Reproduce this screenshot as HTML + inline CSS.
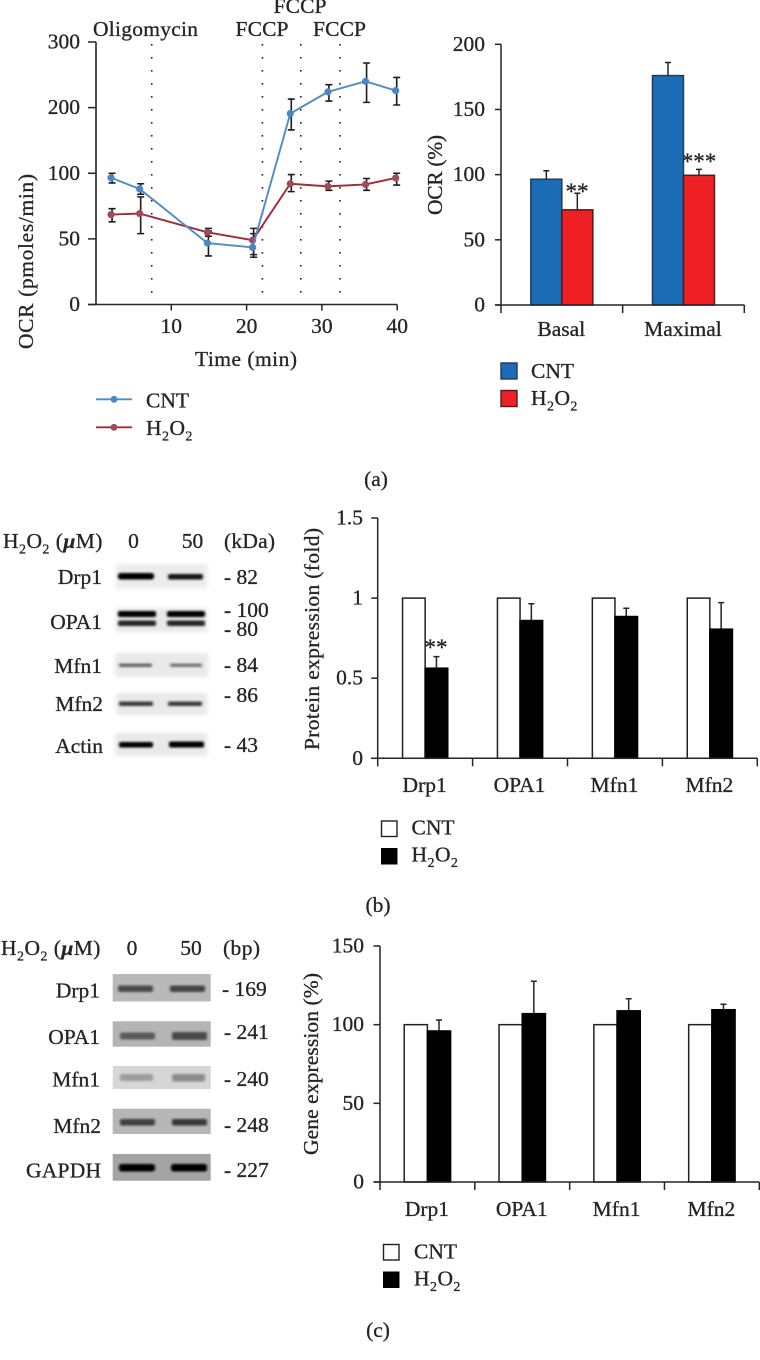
<!DOCTYPE html>
<html lang="en">
<head>
<meta charset="utf-8">
<title>OCR, protein and gene expression figure</title>
<style>
html,body{margin:0;padding:0;background:#fff;}
svg{display:block;}
text{font-family:"Liberation Serif",serif;fill:#262425;stroke:#262425;stroke-width:.3px;font-size:21.5px;}
.sm{font-size:14px;}
.wide{letter-spacing:.45px;}
</style>
</head>
<body>
<svg id="fig" xmlns="http://www.w3.org/2000/svg" width="760" height="1360" viewBox="0 0 760 1360">
<defs>
<filter id="b1" x="-20%" y="-200%" width="140%" height="500%"><feGaussianBlur stdDeviation="1.4 1.05"/></filter>
<filter id="b2" x="-10%" y="-10%" width="120%" height="120%"><feGaussianBlur stdDeviation="2"/></filter>
</defs>

<!-- Panel a labels -->
<g>
<text x="93" y="36" textLength="105">Oligomycin</text>
<text x="235.5" y="36" textLength="53">FCCP</text>
<text x="273.5" y="13" textLength="53">FCCP</text>
<text x="313" y="36" textLength="53">FCCP</text>
<text transform="translate(33,349) rotate(-90)" textLength="175">OCR (pmoles/min)</text>
<text x="195" y="366" textLength="102">Time (min)</text>
<line x1="96" x2="132" y1="399.3" y2="399.3" stroke="#4f8bc4" stroke-width="1.8"/>
<circle cx="114" cy="399.3" r="3.4" fill="#4a86c0"/>
<text x="146" y="407.5">CNT</text>
<line x1="96" x2="132" y1="427.3" y2="427.3" stroke="#a32a38" stroke-width="1.8"/>
<circle cx="114" cy="427.3" r="3.4" fill="#a04a5c"/>
<text class="wide" x="146" y="435">H<tspan class="sm" dy="5.5">2</tspan><tspan dy="-5.5">O</tspan><tspan class="sm" dy="5.5">2</tspan></text>
<text x="376" y="486" text-anchor="middle">(a)</text>
</g>

<!-- OCR bar labels -->
<g>
<text transform="translate(442,215) rotate(-90)" textLength="80">OCR (%)</text>
<text x="577" y="199" text-anchor="middle" style="font-size:23px">**</text>
<text x="699" y="169" text-anchor="middle" style="font-size:23px">***</text>
<rect x="501" y="363" width="16" height="16" fill="#1b6bb5" stroke="#1e3c5c" stroke-width="1.4"/>
<text x="531" y="378">CNT</text>
<rect x="501" y="390.5" width="16" height="16" fill="#ee2024" stroke="#4a1c20" stroke-width="1.4"/>
<text class="wide" x="531" y="405">H<tspan class="sm" dy="5.5">2</tspan><tspan dy="-5.5">O</tspan><tspan class="sm" dy="5.5">2</tspan></text>
</g>

<!-- Western blot -->
<g>
<text class="wide" x="3" y="548">H<tspan class="sm" dy="5.5">2</tspan><tspan dy="-5.5">O</tspan><tspan class="sm" dy="5.5">2</tspan><tspan dy="-5.5"> (</tspan><tspan font-style="italic" font-weight="bold">μ</tspan>M)</text>
<text x="133.5" y="548" text-anchor="middle">0</text>
<text x="192.5" y="548" text-anchor="middle">50</text>
<text x="224" y="548" textLength="51">(kDa)</text>

<rect x="116" y="564" width="91" height="25" fill="#ececec" filter="url(#b2)"/>
<rect x="116" y="608" width="91" height="24" fill="#e8e8e8" filter="url(#b2)"/>
<rect x="115" y="653" width="93" height="24" fill="#e9e9e9" filter="url(#b2)"/>
<rect x="116" y="693" width="91" height="22" fill="#e9e9e9" filter="url(#b2)"/>
<rect x="115" y="733" width="92" height="23" fill="#e9e9e9" filter="url(#b2)"/>

<g filter="url(#b1)">
<rect x="118" y="573" width="36" height="6.5" rx="2.5" fill="#000"/>
<rect x="168" y="574" width="35" height="5.5" rx="2" fill="#141414"/>
<rect x="118" y="611" width="38" height="6" rx="2" fill="#000"/>
<rect x="167" y="611" width="38" height="6" rx="2" fill="#000"/>
<rect x="118" y="620.5" width="38" height="5.5" rx="2" fill="#282828"/>
<rect x="167" y="620.5" width="38" height="5.5" rx="2" fill="#282828"/>
<rect x="119" y="663.5" width="33" height="3.5" rx="1" fill="#666"/>
<rect x="170" y="663.5" width="32" height="3.5" rx="1" fill="#777"/>
<rect x="119" y="701.5" width="34" height="4.5" rx="1.5" fill="#3c3c3c"/>
<rect x="168" y="701.5" width="34" height="4.5" rx="1.5" fill="#3c3c3c"/>
<rect x="119" y="742" width="34" height="5.5" rx="2" fill="#000"/>
<rect x="169" y="741.5" width="35" height="6" rx="2" fill="#000"/>
</g>

<text x="102" y="584" text-anchor="end">Drp1</text>
<text x="102" y="629" text-anchor="end">OPA1</text>
<text x="102" y="673" text-anchor="end">Mfn1</text>
<text x="103" y="711" text-anchor="end">Mfn2</text>
<text x="103" y="753" text-anchor="end">Actin</text>
<text x="224" y="584">- 82</text>
<text x="224" y="617">- 100</text>
<text x="224" y="636">- 80</text>
<text x="224" y="672">- 84</text>
<text x="224" y="702">- 86</text>
<text x="224" y="752">- 43</text>
</g>

<!-- Protein chart annotations -->
<g>
<text transform="translate(319,750) rotate(-90)" textLength="222">Protein expression (fold)</text>
<text x="436" y="655" text-anchor="middle" style="font-size:23px">**</text>
<rect x="381.5" y="821" width="15.5" height="15.5" fill="#fff" stroke="#222" stroke-width="1.4"/>
<text x="411.5" y="834.5">CNT</text>
<rect x="381" y="848" width="16.5" height="16.5" fill="#000"/>
<text class="wide" x="411.5" y="861.5">H<tspan class="sm" dy="5.5">2</tspan><tspan dy="-5.5">O</tspan><tspan class="sm" dy="5.5">2</tspan></text>
<text x="378" y="912" text-anchor="middle">(b)</text>
</g>

<!-- RT-PCR gel -->
<g>
<text class="wide" x="1" y="955">H<tspan class="sm" dy="5.5">2</tspan><tspan dy="-5.5">O</tspan><tspan class="sm" dy="5.5">2</tspan><tspan dy="-5.5"> (</tspan><tspan font-style="italic" font-weight="bold">μ</tspan>M)</text>
<text x="132" y="955" text-anchor="middle">0</text>
<text x="191" y="955" text-anchor="middle">50</text>
<text x="223" y="955" textLength="37">(bp)</text>

<rect x="112.7" y="974" width="98" height="27.5" fill="#b9b9b9"/>
<rect x="112.7" y="1021.3" width="98" height="25.4" fill="#b4b4b4"/>
<rect x="112.7" y="1066" width="98" height="23" fill="#d6d6d6"/>
<rect x="112.7" y="1108.7" width="98" height="25.3" fill="#b6b6b6"/>
<rect x="112.7" y="1154" width="98" height="26.7" fill="#a4a4a4"/>

<g filter="url(#b1)">
<rect x="118" y="985.5" width="35" height="6.5" rx="2" fill="#4c4c4c"/>
<rect x="170" y="985.5" width="35" height="6.5" rx="2" fill="#444"/>
<rect x="120" y="1032.5" width="35" height="7" rx="2" fill="#5a5a5a"/>
<rect x="172" y="1032" width="35" height="8" rx="2" fill="#484848"/>
<rect x="120" y="1074" width="33" height="7" rx="2" fill="#9c9c9c"/>
<rect x="172" y="1074" width="33" height="7.5" rx="2" fill="#8c8c8c"/>
<rect x="120" y="1119" width="35" height="6.5" rx="2" fill="#404040"/>
<rect x="172" y="1119" width="35" height="6.5" rx="2" fill="#383838"/>
<rect x="119" y="1164" width="36" height="7.5" rx="2.5" fill="#000"/>
<rect x="171" y="1164" width="36" height="7.5" rx="2.5" fill="#000"/>
</g>

<text x="100" y="997.5" text-anchor="end">Drp1</text>
<text x="100" y="1044" text-anchor="end">OPA1</text>
<text x="100" y="1086.5" text-anchor="end">Mfn1</text>
<text x="101" y="1133" text-anchor="end">Mfn2</text>
<text x="101" y="1177.5" text-anchor="end" textLength="75">GAPDH</text>
<text x="222" y="996">- 169</text>
<text x="224" y="1039">- 241</text>
<text x="224" y="1086">- 240</text>
<text x="224" y="1132">- 248</text>
<text x="224" y="1177">- 227</text>
</g>

<!-- Gene chart annotations -->
<g>
<text transform="translate(318,1155) rotate(-90)" textLength="182">Gene expression (%)</text>
<rect x="383.5" y="1244.5" width="15.5" height="15.5" fill="#fff" stroke="#222" stroke-width="1.4"/>
<text x="414" y="1258.5">CNT</text>
<rect x="383" y="1271.5" width="16.5" height="16.5" fill="#000"/>
<text class="wide" x="414" y="1285.5">H<tspan class="sm" dy="5.5">2</tspan><tspan dy="-5.5">O</tspan><tspan class="sm" dy="5.5">2</tspan></text>
<text x="378" y="1337" text-anchor="middle">(c)</text>
</g>
</svg>

<script>
// ---- OCR time course ----
const timeTicks = [10, 20, 30, 40];
const ocrTicks = [0, 50, 100, 200, 300];
const injectionTimes = [7.4, 22.1, 27.2, 32.4];
const sampleTimes = [2, 5.8, 14.8, 20.8, 25.8, 30.8, 35.8, 39.8];
const cntOcr = [96.6, 88, 46.8, 43.5, 191, 224, 240, 226];
const cntOcrUpper = [100, 92, 56, 58, 213, 235, 268, 246];
const cntOcrLower = [92.6, 84, 37, 36, 166, 210, 208, 204];
const h2o2Ocr = [68.5, 69.3, 55, 49, 92, 90, 91.5, 96.4];
const h2o2OcrUpper = [73, 82, 58, 54, 99, 94, 96, 100];
const h2o2OcrLower = [63, 54, 52, 38, 86, 87, 87, 91];

// ---- OCR bars ----
const ocrBarCategories = ['Basal', 'Maximal'];
const ocrBarTicks = [0, 50, 100, 150, 200];
const ocrBarCnt = [96.5, 176];
const ocrBarCntErr = [6.5, 10];
const ocrBarH2o2 = [73, 99.5];
const ocrBarH2o2Err = [12.7, 4.5];

// ---- Protein expression ----
const proteinCategories = ['Drp1', 'OPA1', 'Mfn1', 'Mfn2'];
const proteinTicks = [0, 0.5, 1, 1.5];
const proteinCnt = [1, 1, 1, 1];
const proteinH2o2 = [0.5625, 0.86, 0.885, 0.806];
const proteinH2o2Err = [0.0725, 0.105, 0.052, 0.166];

// ---- Gene expression ----
const geneCategories = ['Drp1', 'OPA1', 'Mfn1', 'Mfn2'];
const geneTicks = [0, 50, 100, 150];
const geneCnt = [100, 100, 100, 100];
const geneH2o2 = [96, 107, 108.8, 109.5];
const geneH2o2Err = [7, 20.6, 7.7, 3.5];

const NS = 'http://www.w3.org/2000/svg';
const fig = document.getElementById('fig');
function mk(tag, attrs, parent) {
  const node = document.createElementNS(NS, tag);
  for (const k in attrs) node.setAttribute(k, attrs[k]);
  (parent || fig).appendChild(node);
  return node;
}
const INK = '#262425';

// ---------- Panel a, left: line chart ----------
const axX = t => 96 + t * 7.53;
function axY(v) {
  let i = 0;
  while (i < ocrTicks.length - 2 && v > ocrTicks[i + 1]) i++;
  const frac = (v - ocrTicks[i]) / (ocrTicks[i + 1] - ocrTicks[i]);
  return 304.5 - (i + frac) * (262.5 / (ocrTicks.length - 1));
}
const lineGroup = mk('g', {});



injectionTimes.forEach(t => {
  const l = mk('line', {x1: axX(t), x2: axX(t), y1: 44, y2: 296, stroke: '#222', 'stroke-width': 1.6, 'stroke-dasharray': '1.6 11.4'}, lineGroup);
  
  
});

const yAxisA = mk('line', {x1: axX(0), x2: axX(0), y1: axY(300), y2: axY(0), stroke: INK, 'stroke-width': 1.6}, lineGroup);


const xAxisA = mk('line', {x1: 88, x2: axX(40), y1: axY(0), y2: axY(0), stroke: INK, 'stroke-width': 1.6}, lineGroup);



ocrTicks.forEach(v => {
  const t = mk('line', {x1: 88, x2: axX(0), y1: axY(v), y2: axY(v), stroke: INK, 'stroke-width': 1.5}, lineGroup);
  
  
  const lb = mk('text', {x: 80, y: axY(v) + 6.5, 'text-anchor': 'end'}, lineGroup);
  lb.textContent = v;
  
  
});
timeTicks.forEach(v => {
  const t = mk('line', {x1: axX(v), x2: axX(v), y1: axY(0), y2: axY(0) + 6, stroke: INK, 'stroke-width': 1.5}, lineGroup);
  
  
  const lb = mk('text', {x: axX(v), y: 333, 'text-anchor': 'middle'}, lineGroup);
  lb.textContent = v;
  
  
});

function drawErrors(upper, lower, name) {
  sampleTimes.forEach((t, i) => {
    const x = axX(t) + 1;
    const e = mk('path', {
      d: 'M' + x + ' ' + axY(upper[i]) + 'V' + axY(lower[i]) +
         'M' + (x - 3.5) + ' ' + axY(upper[i]) + 'h7' +
         'M' + (x - 3.5) + ' ' + axY(lower[i]) + 'h7',
      stroke: '#1c1c1c', 'stroke-width': 1.6, fill: 'none'}, lineGroup);
    
    
  });
}
function drawSeries(values, lineColor, dotColor, lineName, dotName) {
  const p = mk('polyline', {
    points: values.map((v, i) => axX(sampleTimes[i]) + ',' + axY(v)).join(' '),
    fill: 'none', stroke: lineColor, 'stroke-width': 1.9}, lineGroup);
  
  
  values.forEach((v, i) => {
    const c = mk('circle', {cx: axX(sampleTimes[i]), cy: axY(v), r: 3.6, fill: dotColor}, lineGroup);
    
    
  });
}
drawErrors(h2o2OcrUpper, h2o2OcrLower, 'h2o2-error-bar');
drawErrors(cntOcrUpper, cntOcrLower, 'cnt-error-bar');
drawSeries(h2o2Ocr, '#a32a38', '#a04a5c', 'h2o2-line', 'h2o2-point');
drawSeries(cntOcr, '#4f8bc4', '#4a86c0', 'cnt-line', 'cnt-point');

// ---------- Shared grouped bar chart ----------
function barChart(cfg) {
  const g = mk('g', {});
  
  
  const maxTick = cfg.ticks[cfg.ticks.length - 1];
  const y = v => cfg.y0 - (v / maxTick) * (cfg.y0 - cfg.yTop);
  const n = cfg.categories.length;
  const band = (cfg.xEnd - cfg.x0) / n;
  const center = i => cfg.x0 + band * (i + 0.5);

  cfg.categories.forEach((cat, i) => {
    const c = center(i) + cfg.shift;
    const a = mk('rect', {x: c - cfg.bw, y: y(cfg.a[i]), width: cfg.bw, height: cfg.y0 - y(cfg.a[i]), fill: cfg.aFill, stroke: cfg.aStroke, 'stroke-width': 1.5}, g);
    
    
    if (cfg.aErr) {
      const top = cfg.a[i] + cfg.aErr[i];
      const ea = mk('path', {d: 'M' + (c - cfg.bw / 2) + ' ' + y(cfg.a[i]) + 'V' + y(top) + 'M' + (c - cfg.bw / 2 - 3) + ' ' + y(top) + 'h6', stroke: INK, 'stroke-width': 1.5, fill: 'none'}, g);
      
      
    }
    const top = cfg.b[i] + cfg.bErr[i];
    const eb = mk('path', {d: 'M' + (c + cfg.bw / 2) + ' ' + y(cfg.b[i]) + 'V' + y(top) + 'M' + (c + cfg.bw / 2 - 3) + ' ' + y(top) + 'h6', stroke: INK, 'stroke-width': 1.5, fill: 'none'}, g);
    
    
    const b = mk('rect', {x: c, y: y(cfg.b[i]), width: cfg.bw, height: cfg.y0 - y(cfg.b[i]), fill: cfg.bFill, stroke: cfg.bStroke, 'stroke-width': 1.5}, g);
    
    
    const lb = mk('text', {x: center(i) - 0.5, y: cfg.labelY, 'text-anchor': 'middle'}, g);
    lb.textContent = cat;
    
    
  });

  const ya = mk('line', {x1: cfg.x0, x2: cfg.x0, y1: cfg.yTop, y2: cfg.y0, stroke: INK, 'stroke-width': 1.5}, g);
  
  
  const xa = mk('line', {x1: cfg.x0 - cfg.tickLen, x2: cfg.xEnd, y1: cfg.y0, y2: cfg.y0, stroke: INK, 'stroke-width': 1.5}, g);
  
  

  cfg.ticks.forEach(v => {
    const t = mk('line', {x1: cfg.x0 - cfg.tickLen, x2: cfg.x0, y1: y(v), y2: y(v), stroke: INK, 'stroke-width': 1.5}, g);
    
    
    const lb = mk('text', {x: cfg.labelX, y: y(v) + 6.5, 'text-anchor': 'end'}, g);
    lb.textContent = v;
    
    
  });
  for (let i = 0; i <= n; i++) {
    const x = cfg.x0 + band * i;
    const t = mk('line', {x1: x, x2: x, y1: cfg.y0, y2: cfg.y0 + 8, stroke: INK, 'stroke-width': 1.5}, g);
    
    
  }
}

barChart({
  name: 'ocr-percent-bar-chart', categories: ocrBarCategories, ticks: ocrBarTicks,
  a: ocrBarCnt, aErr: ocrBarCntErr, b: ocrBarH2o2, bErr: ocrBarH2o2Err,
  x0: 501, xEnd: 744.3, y0: 305, yTop: 44.3, bw: 31, shift: 0,
  aFill: '#1b6bb5', aStroke: '#1e3c5c', bFill: '#ee2024', bStroke: '#4a1c20',
  labelX: 485, labelY: 336, tickLen: 6
});
barChart({
  name: 'protein-expression-bar-chart', categories: proteinCategories, ticks: proteinTicks,
  a: proteinCnt, b: proteinH2o2, bErr: proteinH2o2Err,
  x0: 377.7, xEnd: 757.3, y0: 758.3, yTop: 518, bw: 22.6, shift: 0,
  aFill: '#fff', aStroke: '#222', bFill: '#000', bStroke: '#000',
  labelX: 363, labelY: 792, tickLen: 6.5
});
barChart({
  name: 'gene-expression-bar-chart', categories: geneCategories, ticks: geneTicks,
  a: geneCnt, b: geneH2o2, bErr: geneH2o2Err,
  x0: 380, xEnd: 759.3, y0: 1182, yTop: 946, bw: 23.2, shift: 0,
  aFill: '#fff', aStroke: '#222', bFill: '#000', bStroke: '#000',
  labelX: 364, labelY: 1216, tickLen: 6.5
});
</script>
</body>
</html>
